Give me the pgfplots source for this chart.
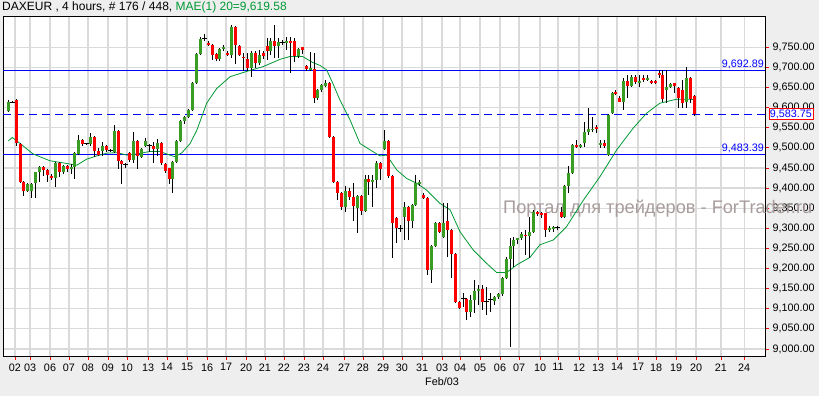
\documentclass[border=0pt]{standalone}
\usepackage{pgfplots}
\pgfplotsset{compat=1.18}
\usepackage{pgfplotstable}
\usepackage{fontspec}
\setmainfont{Liberation Sans}
\definecolor{bgc}{HTML}{EEEEEE}
\definecolor{upc}{HTML}{3A9D23}
\definecolor{dnc}{HTML}{FF0000}
\definecolor{mac}{HTML}{009933}
\definecolor{gridc}{HTML}{DADADA}
\definecolor{wmc}{HTML}{A89C9C}

\pgfplotstableread{
i o h l c
0 9592 9618 9588 9613
1 9613 9616 9611 9614
2 9619 9622 9505 9511
3 9510 9512 9412 9416
4 9416 9418 9381 9394
5 9394 9412 9390 9410
6 9393 9412 9375 9410
7 9412 9441 9375 9439
8 9439 9454 9416 9452
9 9452 9454 9430 9445
10 9445 9447 9416 9433
11 9430 9434 9420 9425
12 9425 9466 9403 9463
13 9463 9466 9428 9440
14 9440 9458 9436 9455
15 9455 9457 9440 9448
16 9448 9461 9435 9452
17 9452 9490 9422 9486
18 9486 9532 9482 9520
19 9520 9522 9505 9509
20 9510 9513 9507 9511
21 9509 9536 9505 9526
22 9526 9529 9478 9493
23 9493 9501 9480 9483
24 9493 9514 9480 9505
25 9505 9508 9490 9495
26 9493 9496 9490 9494
27 9491 9557 9488 9543
28 9543 9545 9447 9468
29 9468 9470 9410 9460
30 9457 9462 9450 9458
31 9488 9490 9465 9470
32 9470 9540 9462 9517
33 9517 9520 9447 9480
34 9478 9500 9474 9497
35 9505 9524 9502 9517
36 9505 9510 9490 9506
37 9505 9514 9462 9498
38 9498 9522 9481 9513
39 9513 9515 9457 9462
40 9460 9462 9438 9443
41 9449 9451 9410 9422
42 9422 9467 9387 9465
43 9465 9519 9463 9517
44 9517 9570 9515 9568
45 9568 9580 9560 9578
46 9578 9596 9575 9594
47 9594 9663 9592 9661
48 9661 9735 9658 9733
49 9733 9776 9730 9771
50 9772 9782 9766 9773
51 9762 9765 9752 9756
52 9756 9758 9719 9731
53 9733 9735 9716 9720
54 9722 9748 9715 9745
55 9745 9755 9742 9750
56 9737 9740 9728 9731
57 9731 9805 9723 9800
58 9800 9802 9708 9756
59 9753 9755 9728 9731
60 9727 9735 9690 9723
61 9720 9737 9690 9698
62 9698 9740 9677 9737
63 9737 9740 9698 9710
64 9710 9743 9706 9731
65 9735 9740 9722 9728
66 9753 9772 9718 9741
67 9741 9772 9730 9766
68 9766 9805 9723 9753
69 9753 9772 9723 9764
70 9762 9768 9757 9763
71 9762 9776 9743 9765
72 9765 9776 9685 9760
73 9766 9772 9714 9728
74 9728 9748 9724 9745
75 9750 9752 9733 9743
76 9704 9706 9690 9695
77 9695 9739 9690 9699
78 9695 9735 9611 9623
79 9623 9646 9620 9644
80 9644 9658 9640 9656
81 9655 9668 9652 9661
82 9661 9665 9525 9528
83 9528 9530 9412 9416
84 9416 9418 9370 9387
85 9387 9390 9346 9352
86 9352 9405 9341 9393
87 9393 9400 9370 9377
88 9377 9413 9317 9356
89 9350 9384 9289 9380
90 9380 9383 9333 9344
91 9344 9433 9340 9423
92 9423 9433 9383 9414
93 9414 9433 9352 9420
94 9420 9468 9400 9463
95 9463 9466 9420 9447
96 9497 9544 9495 9518
97 9518 9520 9425 9430
98 9430 9432 9225 9314
99 9325 9327 9264 9300
100 9298 9308 9290 9299
101 9329 9366 9271 9354
102 9354 9356 9271 9319
103 9319 9360 9300 9358
104 9358 9433 9355 9412
105 9409 9420 9405 9414
106 9383 9388 9372 9375
107 9375 9378 9184 9196
108 9196 9258 9165 9256
109 9256 9316 9254 9314
110 9314 9316 9288 9292
111 9278 9364 9275 9314
112 9317 9363 9229 9296
113 9296 9298 9176 9236
114 9236 9238 9114 9118
115 9118 9120 9100 9103
116 9124 9139 9104 9125
117 9124 9126 9072 9093
118 9093 9134 9080 9122
119 9122 9172 9089 9144
120 9144 9160 9110 9148
121 9148 9160 9097 9118
122 9118 9155 9085 9119
123 9122 9139 9092 9123
124 9120 9132 9110 9129
125 9129 9140 9125 9137
126 9137 9180 9132 9176
127 9176 9228 9173 9225
128 9225 9275 9006 9257
129 9257 9278 9205 9271
130 9271 9277 9260 9275
131 9275 9290 9270 9285
132 9284 9296 9234 9281
133 9281 9329 9226 9292
134 9292 9346 9288 9340
135 9340 9343 9330 9338
136 9338 9341 9325 9333
137 9337 9339 9279 9296
138 9296 9305 9290 9300
139 9298 9306 9292 9303
140 9300 9305 9295 9301
141 9341 9354 9325 9329
142 9329 9407 9325 9405
143 9405 9454 9387 9437
144 9437 9509 9435 9507
145 9507 9520 9500 9501
146 9503 9510 9500 9507
147 9511 9565 9503 9540
148 9540 9598 9532 9548
149 9544 9577 9540 9548
150 9551 9557 9536 9547
151 9507 9520 9499 9511
152 9511 9520 9499 9505
153 9482 9584 9480 9582
154 9586 9638 9584 9636
155 9638 9644 9632 9636
156 9623 9630 9613 9615
157 9615 9673 9594 9667
158 9667 9681 9623 9654
159 9654 9681 9652 9677
160 9677 9681 9660 9665
161 9661 9681 9652 9667
162 9673 9681 9665 9669
163 9669 9681 9666 9673
164 9667 9670 9660 9663
165 9665 9668 9658 9661
166 9685 9694 9673 9681
167 9681 9694 9615 9621
168 9643 9694 9611 9651
169 9652 9660 9648 9658
170 9660 9662 9637 9654
171 9648 9652 9598 9623
172 9644 9669 9598 9611
173 9615 9702 9598 9673
174 9673 9676 9612 9621
175 9629 9631 9579 9583.75
}\candles

\pgfplotstableread{
x y
0 9517
1 9526
3 9511
6.3 9485
10.6 9468
15 9461
17.5 9457
20 9472
22.6 9480
25.2 9487
27.7 9488
30.3 9482
32.8 9485
36.1 9491
38.7 9491
41.2 9482
42.5 9478
44.3 9488
46.4 9511
48.1 9544
50.6 9611
53.2 9648
56.6 9677
60.8 9690
65 9702
69.3 9720
71.8 9727
75.1 9727
77.7 9712
79.5 9705
81.2 9694
82.8 9660
84.6 9619
87.2 9569
89.7 9511
92.3 9495
94.8 9480
96.5 9482
99.1 9445
101.6 9424
104.2 9412
106.7 9395
110.1 9362
112.7 9346
115.2 9292
118.6 9246
122 9213
124.6 9190
127.1 9190
129.7 9209
133.1 9228
135.6 9259
139 9271
142.4 9304
146.7 9370
150.9 9428
155.2 9495
159.4 9549
162.8 9586
166.2 9611
170.5 9621
173.9 9621
174.7 9620
}\mavg

\begin{document}
\begin{tikzpicture}[x=1pt,y=1pt]
\fill[bgc] (0,0) rectangle (819,396);
\useasboundingbox (0,0) rectangle (819,396);
\begin{axis}[
  at={(3pt,40pt)}, anchor=south west,
  scale only axis, width=762pt, height=340pt,
  xmin=-1.35, xmax=193.03, ymin=8982.6, ymax=9827.8,
  axis background/.style={fill=white},
  axis line style={black, line width=0.8pt},
  clip mode=individual,
  xtick={1.71,5.54,10.64,15.48,20.33,25.43,30.28,35.64,40.48,45.59,50.69,55.54,60.64,65.48,70.33,75.43,80.28,85.64,90.48,95.59,100.43,105.54,110.64,115.23,120.33,125.43,130.28,135.64,140.23,145.59,150.43,155.28,160.64,165.23,170.33,175.43,181.8,187.7},
  xticklabels={02,03,06,07,08,09,10,13,14,15,16,17,20,21,22,23,24,27,28,29,30,31,03,04,05,06,07,10,11,12,13,14,17,18,19,20,21,24},
  ytick={9000,9050,...,9750},
  yticklabels={{9,000.00},{9,050.00},{9,100.00},{9,150.00},{9,200.00},{9,250.00},{9,300.00},{9,350.00},{9,400.00},{9,450.00},{9,500.00},{9,550.00},{9,600.00},{9,650.00},{9,700.00},{9,750.00}},
  xtick pos=bottom, ytick pos=right,
  yticklabel pos=right,
  tick align=outside,
  major tick length=4pt,
  tick style={red, line width=0.8pt},
  grid=major,
  major grid style={gridc, line width=1.2pt},
  ticklabel style={font=\fontsize{10.8}{12}\selectfont, text=black},
]
% watermark (behind the candles)
\node[anchor=base west, inner sep=0pt, text=wmc, font=\fontsize{18.2}{20}\selectfont] at (axis cs:126.2,9338) {Портал для трейдеров - ForTrader.ru};
% level lines
\addplot[blue, line width=0.8pt, forget plot] coordinates {(-1.35,9692.89) (193.03,9692.89)};
\addplot[blue, line width=0.8pt, dash pattern=on 8pt off 5pt, forget plot] coordinates {(-1.35,9583.75) (193.03,9583.75)};
\addplot[blue, line width=0.8pt, forget plot] coordinates {(-1.35,9483.39) (193.03,9483.39)};
% moving average
\addplot[mac, line width=0.8pt, mark=none, forget plot] table[x=x, y=y] {\mavg};
% wicks
\addplot[draw=none, mark=none, forget plot,
  error bars/.cd, y dir=both, y explicit, error mark=none,
  error bar style={draw=black, line width=1pt, solid}]
  table[x=i, y expr={(\thisrow{h}+\thisrow{l})/2}, y error expr={(\thisrow{h}-\thisrow{l})/2}] {\candles};
% up bodies
\addplot[draw=none, mark=none, forget plot,
  restrict expr to domain={\thisrow{c}-\thisrow{o}}{1.5:100000},
  error bars/.cd, y dir=both, y explicit, error mark=none,
  error bar style={draw=upc, line width=3pt, solid}]
  table[x=i, y expr={(\thisrow{o}+\thisrow{c})/2}, y error expr={abs(\thisrow{c}-\thisrow{o})/2}] {\candles};
% down bodies
\addplot[draw=none, mark=none, forget plot,
  restrict expr to domain={\thisrow{o}-\thisrow{c}}{1.5:100000},
  error bars/.cd, y dir=both, y explicit, error mark=none,
  error bar style={draw=dnc, line width=3pt, solid}]
  table[x=i, y expr={(\thisrow{o}+\thisrow{c})/2}, y error expr={abs(\thisrow{c}-\thisrow{o})/2}] {\candles};
% doji
\addplot[only marks, mark=-, mark size=2.5pt, mark options={black, line width=1pt}, forget plot,
  restrict expr to domain={abs(\thisrow{c}-\thisrow{o})}{0:1.4}]
  table[x=i, y=c] {\candles};
% labels
\node[anchor=south east, text=blue, inner sep=1pt, font=\fontsize{10.8}{12}\selectfont] at (axis cs:193.03,9692.89) {9,692.89};
\node[anchor=south east, text=blue, inner sep=1pt, font=\fontsize{10.8}{12}\selectfont] at (axis cs:193.03,9483.39) {9,483.39};
\node[anchor=west, xshift=3.5pt, text=blue, draw=red, fill=white, line width=0.8pt, inner sep=1pt, font=\fontsize{10.8}{12}\selectfont] at (axis cs:193.03,9583.75) {9,583.75};
\node[font=\fontsize{10.8}{12}\selectfont, anchor=center] at (axis cs:110.64,8982.6) [yshift=-26pt] {Feb/03};
\end{axis}
\node[anchor=base west, inner sep=0pt, font=\fontsize{12}{13}\selectfont] at (2,385) {DAXEUR , 4 hours, \# 176 / 448, \textcolor{mac}{MAE(1) 20=9,619.58}};
\end{tikzpicture}
\end{document}
